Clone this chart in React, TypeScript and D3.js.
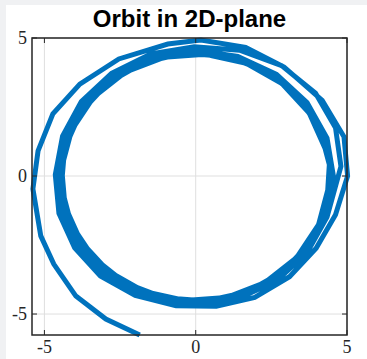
import React from "react";
import * as d3 from "d3";

// ─── Trajectory (x, y pairs) ───────────────────────────────────────────
const approachArc: [number, number][] = [
  [-1.85, -5.76], [-2.97, -5.18], [-3.96, -4.35], [-4.69, -3.19], [-5.12, -2.17],
  [-5.38, -0.47], [-5.21, 0.91], [-4.72, 2.25], [-3.83, 3.33], [-2.54, 4.24],
  [-0.92, 4.78], [0.17, 4.93], [1.65, 4.66], [2.92, 3.95], [4.18, 2.74],
  [4.9, 1.42], [5.02, 0.0],
];

const loop1: [number, number][] = [
  [4.62, -1.4], [3.98, -2.62], [3.1, -3.65], [1.95, -4.4], [0.68, -4.72],
  [-0.65, -4.7], [-2.0, -4.33], [-3.15, -3.62], [-4.0, -2.6], [-4.52, -1.35],
  [-4.64, 0.05], [-4.4, 1.45], [-3.78, 2.7], [-2.78, 3.72], [-1.48, 4.42],
  [-0.05, 4.68], [1.45, 4.56], [2.84, 4.0], [3.96, 3.0], [4.62, 1.75], [4.8, 0.35],
];

const loop2: [number, number][] = [
  [4.34, -1.49], [3.68, -2.78], [2.67, -3.8], [1.39, -4.45], [-0.03, -4.68],
  [-1.45, -4.45], [-2.73, -3.8], [-3.74, -2.78], [-4.4, -1.49], [-4.62, -0.06],
  [-4.4, 1.37], [-3.74, 2.66], [-2.73, 3.68], [-1.45, 4.33], [-0.03, 4.56],
  [1.39, 4.33], [2.67, 3.68], [3.68, 2.66], [4.34, 1.37], [4.56, -0.06],
];

const loop3: [number, number][] = [
  [4.43, -0.75], [3.99, -2.12], [3.16, -3.27], [2.02, -4.1], [0.68, -4.55],
  [-0.72, -4.55], [-2.06, -4.1], [-3.2, -3.27], [-4.03, -2.12], [-4.47, -0.76],
  [-4.47, 0.66], [-4.03, 2.02], [-3.2, 3.17], [-2.06, 4.0], [-0.72, 4.44],
  [0.68, 4.44], [2.02, 4.0], [3.16, 3.17], [3.99, 2.02], [4.43, 0.66],
];

const loop4: [number, number][] = [
  [4.33, -1.09], [3.8, -2.39], [2.89, -3.46], [1.7, -4.2], [0.35, -4.53],
  [-1.04, -4.41], [-2.32, -3.88], [-3.38, -2.96], [-4.11, -1.76], [-4.44, -0.39],
  [-4.33, 1.01], [-3.8, 2.31], [-2.89, 3.38], [-1.7, 4.12], [-0.35, 4.45],
  [1.04, 4.33], [2.32, 3.8], [3.38, 2.88], [4.11, 1.68], [4.44, 0.31],
];

const loop5: [number, number][] = [
  [4.39, -0.4], [4.06, -1.76], [3.34, -2.95], [2.29, -3.86], [1.01, -4.4],
  [-0.36, -4.51], [-1.71, -4.18], [-2.89, -3.45], [-3.79, -2.38], [-4.32, -1.09],
  [-4.43, 0.3], [-4.1, 1.66], [-3.38, 2.85], [-2.33, 3.76], [-1.05, 4.3],
  [0.32, 4.41], [1.67, 4.08], [2.85, 3.35], [3.75, 2.28], [4.28, 0.99],
];

const xTicks = [-5, 0, 5];
const yTicks = [-5, 0, 5];
const xLimits: [number, number] = [-5.41, 5.0];
const yLimits: [number, number] = [-5.76, 5.0];
const title = "Orbit in 2D-plane";

const W = 367;
const H = 359;
const left = 32;
const right = 347;
const top = 38;
const bottom = 335;

const fmt = (d: number) => (d < 0 ? `-${Math.abs(d)}` : `${d}`);

export default function App() {
  const x = d3.scaleLinear().domain(xLimits).range([left, right]);
  const y = d3.scaleLinear().domain(yLimits).range([bottom, top]);

  const orbit = [...approachArc, ...loop1, ...loop2, ...loop3, ...loop4, ...loop5];
  const line = d3
    .line<[number, number]>()
    .x((d) => x(d[0]))
    .y((d) => y(d[1]));

  const axisColor = "#262626";
  const tickLen = 5;

  return (
    <svg width={W} height={H} style={{ display: "block", position: "absolute", left: 0, top: 0 }}>
      <rect x={0} y={0} width={W} height={H} fill="#f0f1f3" />
      <rect x={6} y={5} width={W - 6} height={H - 5} fill="#ffffff" />

      {/* grid */}
      {xTicks.map((t) => (
        <line key={`gx${t}`} x1={x(t)} x2={x(t)} y1={top} y2={bottom} stroke="#dfdfdf" strokeWidth={1} />
      ))}
      {yTicks.map((t) => (
        <line key={`gy${t}`} x1={left} x2={right} y1={y(t)} y2={y(t)} stroke="#dfdfdf" strokeWidth={1} />
      ))}

      {/* orbit */}
      <path
        d={line(orbit) ?? ""}
        fill="none"
        stroke="#0072BD"
        strokeWidth={5}
        strokeLinejoin="miter"
      />

      {/* box */}
      <rect
        x={left}
        y={top}
        width={right - left}
        height={bottom - top}
        fill="none"
        stroke={axisColor}
        strokeWidth={1.5}
      />

      {/* ticks, all four sides, inward */}
      {xTicks.map((t) => (
        <g key={`tx${t}`} stroke={axisColor} strokeWidth={1}>
          <line x1={x(t)} x2={x(t)} y1={bottom} y2={bottom - tickLen} />
          <line x1={x(t)} x2={x(t)} y1={top} y2={top + tickLen} />
        </g>
      ))}
      {yTicks.map((t) => (
        <g key={`ty${t}`} stroke={axisColor} strokeWidth={1}>
          <line x1={left} x2={left + tickLen} y1={y(t)} y2={y(t)} />
          <line x1={right} x2={right - tickLen} y1={y(t)} y2={y(t)} />
        </g>
      ))}

      {/* tick labels */}
      {xTicks.map((t) => (
        <text
          key={`lx${t}`}
          x={x(t)}
          y={bottom + 18}
          textAnchor="middle"
          fontFamily="'Liberation Serif', serif"
          fontSize={18}
          fill={axisColor}
        >
          {fmt(t)}
        </text>
      ))}
      {yTicks.map((t) => (
        <text
          key={`ly${t}`}
          x={left - 5}
          y={y(t) + 6}
          textAnchor="end"
          fontFamily="'Liberation Serif', serif"
          fontSize={18}
          fill={axisColor}
        >
          {fmt(t)}
        </text>
      ))}

      {/* title */}
      <text
        x={(left + right) / 2}
        y={27}
        textAnchor="middle"
        fontFamily="'Liberation Sans', Arial, sans-serif"
        fontWeight="bold"
        fontSize={24}
        fill="#000000"
      >
        {title}
      </text>
    </svg>
  );
}
